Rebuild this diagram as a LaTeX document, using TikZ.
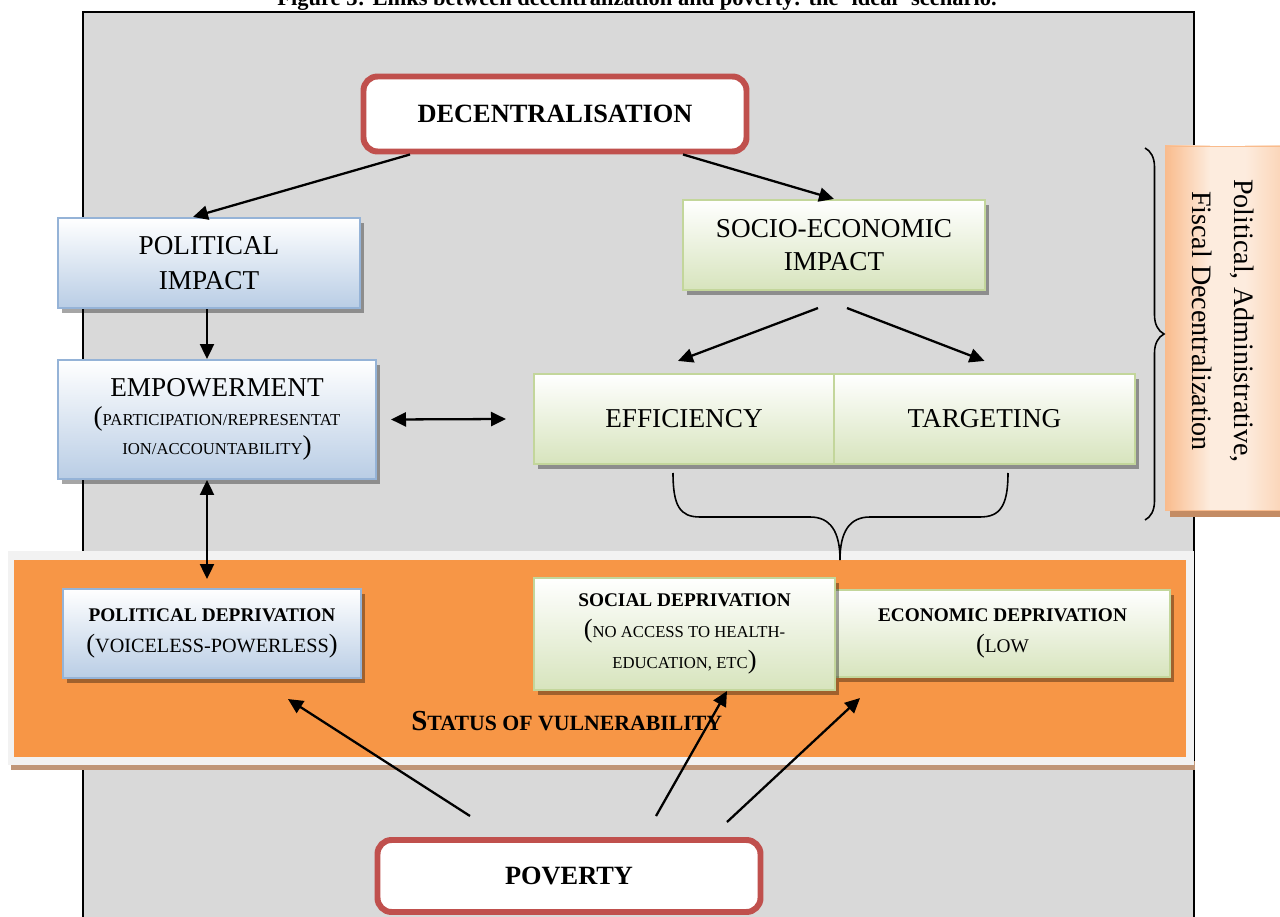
\documentclass[tikz,border=0pt]{standalone}
\usepackage{fontspec}
\setmainfont{Liberation Serif}
\usepackage{tikz}
\usetikzlibrary{arrows.meta,decorations.pathreplacing,shadows}
\definecolor{panelgray}{RGB}{217,217,217}
\definecolor{boxred}{RGB}{192,80,77}
\definecolor{blueedge}{RGB}{149,179,215}
\definecolor{bluefill}{RGB}{185,205,229}
\definecolor{greenedge}{RGB}{195,214,155}
\definecolor{greenfill}{RGB}{215,228,189}
\definecolor{vulnorange}{RGB}{247,150,70}
\definecolor{framegray}{RGB}{242,242,242}
\definecolor{bandshadow}{RGB}{192,150,120}
\definecolor{sideorange}{RGB}{249,187,140}
\definecolor{sidelight}{RGB}{253,236,222}
\definecolor{sideshadow}{RGB}{196,140,100}

% fake small caps: capitals at a smaller size
\newcommand{\fsc}[2]{{\fontsize{#1}{#1}\selectfont #2}}

\begin{document}
\begin{tikzpicture}[>={Triangle[length=8.5pt,width=8pt]},
    redbox/.style={draw=boxred,line width=3.4pt,rounded corners=8pt,fill=white,
      minimum width=7.66cm,minimum height=1.5cm,inner sep=0pt,
      font=\fontsize{15}{18}\selectfont\bfseries},
    bluebox/.style={draw=blueedge,line width=1.2pt,top color=white,bottom color=bluefill,
      drop shadow={shadow xshift=0.07cm,shadow yshift=-0.1cm,opacity=0.35,fill=black},
      align=center,inner sep=0pt},
    greenbox/.style={bluebox,draw=greenedge,bottom color=greenfill},
    arr/.style={->,line width=1.3pt},
    dblarr/.style={<->,line width=1.3pt}]
    \useasboundingbox (0,0) rectangle (25.6,18.32);

    \draw[fill=panelgray,line width=1.1pt] (1.66,-0.5) rectangle (23.88,18.08);
    \node[anchor=base,font=\fontsize{12.8}{14}\selectfont\bfseries] (title) at (12.74,18.2)
      {Figure 3: Links between decentralization and poverty: the ‘ideal’ scenario.};

    % status of vulnerability band
    \fill[bandshadow] (0.22,2.92) rectangle (23.9,3.1);
    \fill[framegray] (0.16,3.02) rectangle (23.88,7.3);
    \fill[vulnorange] (0.28,3.18) rectangle (23.72,7.12);

    % side label
    \fill[sideshadow] (23.4,7.98) rectangle (26,15.3);
    \fill[sidelight] (23.3,8.12) rectangle (26,15.4);
    \shade[left color=sideorange,right color=sidelight] (23.3,8.12) rectangle (24.2,15.4);
    \shade[left color=sidelight,right color=sideorange!70!sidelight] (24.9,8.12) rectangle (26,15.4);
    \draw[sideorange] (23.3,8.12) rectangle (26,15.4);
    \node[rotate=-90,align=center,font=\fontsize{16}{23.5}\selectfont] (sidetext) at (24.46,11.9)
      {Political, Administrative,\\Fiscal Decentralization};

    \node[redbox] (dec) at (11.1,16.04) {DECENTRALISATION};
    \node[bluebox,minimum width=6.04cm,minimum height=1.8cm,font=\fontsize{15.5}{20}\selectfont]
      (polimp) at (4.18,13.06) {POLITICAL\\IMPACT};
    \node[greenbox,minimum width=6.04cm,minimum height=1.8cm,font=\fontsize{15.5}{19}\selectfont]
      (socimp) at (16.68,13.42) {SOCIO-ECONOMIC\\IMPACT};
    \node[bluebox,minimum width=6.36cm,minimum height=2.38cm,font=\fontsize{15.5}{16.5}\selectfont]
      (empow) at (4.34,9.93)
      {EMPOWERMENT\\(\fsc{9.5}{PARTICIPATION/REPRESENTAT}\\\fsc{9.5}{ION/ACCOUNTABILITY})};
    \node[greenbox,minimum width=6cm,minimum height=1.8cm,font=\fontsize{15.5}{18}\selectfont]
      (effic) at (13.68,9.94) {EFFICIENCY};
    \node[greenbox,minimum width=6.02cm,minimum height=1.8cm,font=\fontsize{15.5}{18}\selectfont]
      (target) at (19.69,9.94) {TARGETING};

    \node[bluebox,minimum width=5.96cm,minimum height=1.78cm,font=\fontsize{15}{18}\selectfont]
      (poldep) at (4.24,5.65)
      {\fsc{11}{\bfseries POLITICAL DEPRIVATION}\\(\fsc{11.5}{VOICELESS-POWERLESS})};
    \node[greenbox,minimum width=6.7cm,minimum height=1.74cm,font=\fontsize{15}{18}\selectfont]
      (ecodep) at (20.05,5.65)
      {\fsc{11}{\bfseries ECONOMIC DEPRIVATION}\\(\fsc{11}{LOW}};
    \node[greenbox,minimum width=6.02cm,minimum height=2.24cm,font=\fontsize{15}{17.5}\selectfont]
      (socdep) at (13.69,5.64)
      {\fsc{11}{\bfseries SOCIAL DEPRIVATION}\\(\fsc{9.5}{NO ACCESS TO HEALTH-}\\\fsc{9.5}{EDUCATION, ETC})};
    \node[anchor=base west,font=\bfseries,inner sep=0pt] (vuln) at (8.22,3.72)
      {\fsc{16.5}{S}\fsc{12.4}{TATUS OF VULNERABILITY}};

    \node[redbox,minimum height=1.44cm] (pov) at (11.38,0.8) {POVERTY};

    % braces
    \coordinate (bracetip) at (16.8,7.12);
    \draw[line width=0.9pt] (13.46,8.86) .. controls (13.46,8.2) and (13.6,7.98) .. (14.0,7.98)
      -- (16.2,7.98) .. controls (16.6,7.98) and (16.8,7.7) .. (bracetip)
      .. controls (16.8,7.7) and (17.0,7.98) .. (17.4,7.98) -- (19.6,7.98)
      .. controls (20.0,7.98) and (20.16,8.2) .. (20.16,8.86);
    \draw[line width=0.9pt,decorate,decoration={brace,amplitude=0.38cm}] (22.9,15.36) -- (22.9,7.92);

    \draw[arr] ([xshift=-2.9cm]dec.south) -- ([xshift=-0.32cm]polimp.north);
    \draw[arr] ([xshift=2.56cm]dec.south) -- (socimp.north);
    \draw[arr] ([xshift=-0.04cm]polimp.south) -- ([xshift=-0.04cm]polimp.south |- empow.north);
    \draw[arr] ([xshift=-0.32cm,yshift=-0.34cm]socimp.south) -- ([xshift=-0.12cm,yshift=0.24cm]effic.north);
    \draw[arr] ([xshift=0.26cm,yshift=-0.34cm]socimp.south) -- ([yshift=0.24cm]target.north);
    \draw[dblarr] ([xshift=0.28cm]empow.east) -- ([xshift=-0.54cm]effic.west);
    \draw[dblarr] ([xshift=-0.2cm]empow.south) -- ([xshift=-0.1cm,yshift=0.18cm]poldep.north);
    \draw[arr] ([xshift=-1.98cm,yshift=0.42cm]pov.north) -- ([xshift=1.52cm,yshift=-0.4cm]poldep.south);
    \draw[arr] ([xshift=1.74cm,yshift=0.42cm]pov.north) -- ([xshift=0.85cm]socdep.south);
    \draw[arr] ([xshift=3.16cm,yshift=0.3cm]pov.north) -- ([xshift=-2.85cm,yshift=-0.4cm]ecodep.south);
\end{tikzpicture}
\end{document}
